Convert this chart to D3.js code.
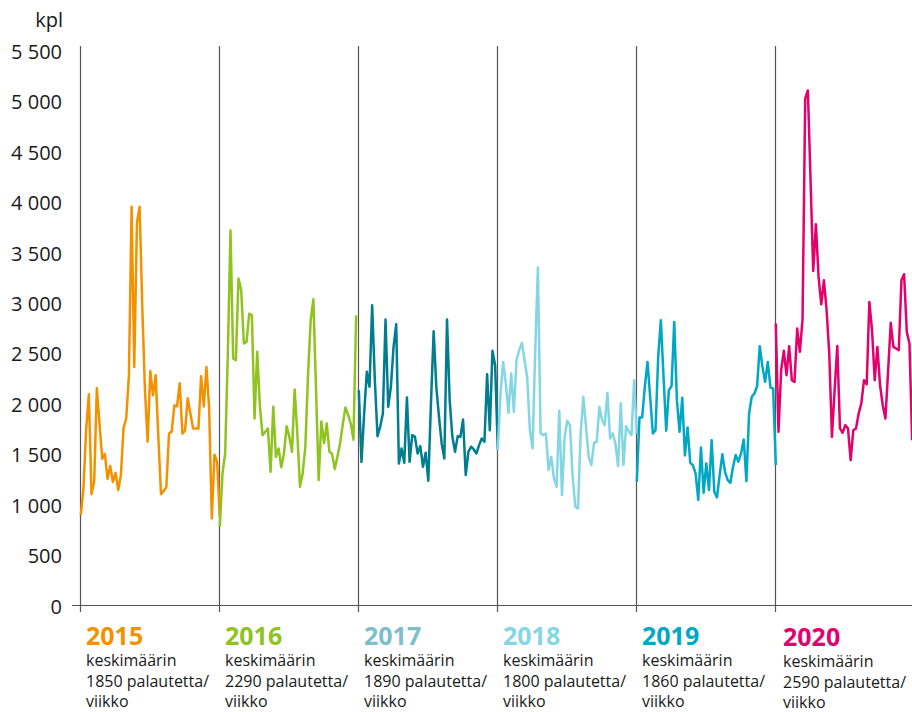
<!DOCTYPE html>
<html>
<head>
<meta charset="utf-8">
<script src="https://cdn.jsdelivr.net/npm/d3@7"></script>
<style>
  body { margin: 0; background: #fff; }
  text { font-family: "Open Sans", sans-serif; fill: #1a1a1a; }
</style>
</head>
<body>
<div id="chart"></div>
<script>
// Weekly feedback counts per year
const years = ["2015", "2016", "2017", "2018", "2019", "2020"];
const averages = ["1850", "2290", "1890", "1800", "1860", "2590"];
const lineColors = ["#f39200", "#8fc31f", "#007d8f", "#85d6e5", "#00a8c6", "#e4006d"];
const labelColors = ["#f39200", "#8fc31f", "#7cbfcb", "#85d6e5", "#00a8c6", "#e4006d"];
const yTicks = [0, 500, 1000, 1500, 2000, 2500, 3000, 3500, 4000, 4500, 5000, 5500];

const v2015 = [892,1160,1740,2090,1100,1220,2150,1800,1450,1500,1250,1380,1220,1310,1140,1290,1760,1850,2280,3950,2360,3790,3950,2950,2130,1620,2320,2080,2280,1670,1100,1130,1170,1700,1720,1980,1970,2200,1700,1730,2050,1900,1750,1750,1750,2270,1970,2360,1960,860,1490,1420,870];
const v2016 = [776,1305,1503,2494,3715,2445,2428,3238,3122,2594,2610,2890,2873,1850,2511,1966,1685,1718,1751,1321,1966,1470,1553,1365,1503,1774,1668,1519,2138,1701,1172,1305,1569,2280,2825,3032,2130,1240,1820,1605,1800,1520,1500,1350,1470,1605,1790,1960,1885,1800,1640,2873];
const v2017 = [2130,1420,1900,2313,2164,2973,2230,1675,1768,1900,2832,1966,2164,2560,2785,1404,1553,1410,2058,1420,1685,1668,1503,1576,1371,1510,1232,2000,2715,2164,1866,1602,1454,2832,2030,1668,1520,1675,1668,1840,1289,1520,1570,1543,1503,1586,1652,1619,2290,1734,2521,2379,1540];
const v2018 = [1536,2098,2411,2196,1906,2296,1916,2428,2527,2600,2428,2256,1734,1553,2527,3347,1701,1685,1701,1338,1470,1255,1173,1926,1090,1668,1827,1784,1272,975,958,1701,2065,1767,1470,1388,1609,1619,1966,1833,1784,2104,1652,1701,1602,1378,2000,1388,1774,1718,1685,2230,1700];
const v2019 = [1222,1860,1860,2164,2411,2065,1701,1734,2461,2825,2263,1728,2131,2170,2808,2032,1718,2055,1484,1761,1411,1384,1302,1041,1563,1113,1404,1140,1635,1123,1067,1289,1496,1321,1239,1212,1371,1487,1421,1503,1642,1229,1900,2065,2098,2170,2567,2362,2214,2411,2157,2147,1388];
const v2020 = [2792,1718,2329,2521,2280,2567,2230,2213,2742,2511,2832,5022,5104,4212,3313,3776,3254,2983,3221,2924,2494,1668,2131,2570,1751,1708,1784,1751,1437,1734,1751,1900,2000,2230,2190,3006,2725,2230,2560,2180,1982,1850,2313,2799,2560,2544,2527,3221,3281,2709,2593,1635];

const series = [v2015, v2016, v2017, v2018, v2019, v2020];

// Dimensions
let width = 912, height = 712;

let svg = d3.select("#chart")
            .append("svg")
            .attr("width", width)
            .attr("height", height);

// X scale in weeks from the start of 2015, 52 weeks per year block
let x = d3.scaleLinear()
          .domain([0, 52 * years.length])
          .range([80, 914]);

// Y scale
let y = d3.scaleLinear()
          .domain([0, 5500])
          .range([605, 50.5]);

// Year separators
svg.selectAll(".sep")
   .data(years)
   .enter()
   .append("line")
   .attr("class", "sep")
   .attr("x1", (d, i) => Math.round(x(i * 52)) + 0.5)
   .attr("x2", (d, i) => Math.round(x(i * 52)) + 0.5)
   .attr("y1", 46)
   .attr("y2", 612)
   .attr("stroke", "#555")
   .attr("stroke-width", 1.2);

// Baseline
svg.append("line")
   .attr("x1", 72)
   .attr("x2", width)
   .attr("y1", y(0) + 0.5)
   .attr("y2", y(0) + 0.5)
   .attr("stroke", "#555")
   .attr("stroke-width", 1.2);

// Y axis labels
let fmt = d => d3.format(",")(d).replace(/,/g, "\u00a0");

svg.selectAll(".ylab")
   .data(yTicks)
   .enter()
   .append("text")
   .attr("class", "ylab")
   .attr("x", 62)
   .attr("y", d => y(d) + 1.5)
   .attr("dy", "0.35em")
   .style("text-anchor", "end")
   .style("font-size", "20px")
   .text(fmt);

svg.append("text")
   .attr("x", 63)
   .attr("y", 27)
   .style("text-anchor", "end")
   .style("font-size", "20px")
   .text("kpl");

// Lines, one per year
let line = d3.line()
             .x(d => x(d.week))
             .y(d => y(d.value));

series.forEach((vals, i) => {
   let pts = vals.map((v, k) => ({ week: i * 52 + k + 0.3, value: v }));
   svg.append("path")
      .datum(pts)
      .attr("fill", "none")
      .attr("stroke", lineColors[i])
      .attr("stroke-width", 2.5)
      .attr("stroke-linejoin", "round")
      .attr("d", line);
});

// Year labels below the axis
years.forEach((yr, i) => {
   let lx = x(i * 52) + (i === 5 ? 8 : 6);
   let shift = i === 5 ? 1 : 0;
   let g = svg.append("g")
              .attr("transform", `translate(${lx}, ${shift})`);

   g.append("text")
    .attr("x", 0)
    .attr("y", 645)
    .style("font-size", "25px")
    .style("font-weight", "bold")
    .style("fill", labelColors[i])
    .text(yr);

   let lines = ["keskimäärin", averages[i] + " palautetta/", "viikko"];
   g.selectAll(".sub")
    .data(lines)
    .enter()
    .append("text")
    .attr("x", 0)
    .attr("y", (d, j) => 666 + j * 20.5)
    .style("font-size", "16px")
    .text(d => d);
});
</script>
</body>
</html>
